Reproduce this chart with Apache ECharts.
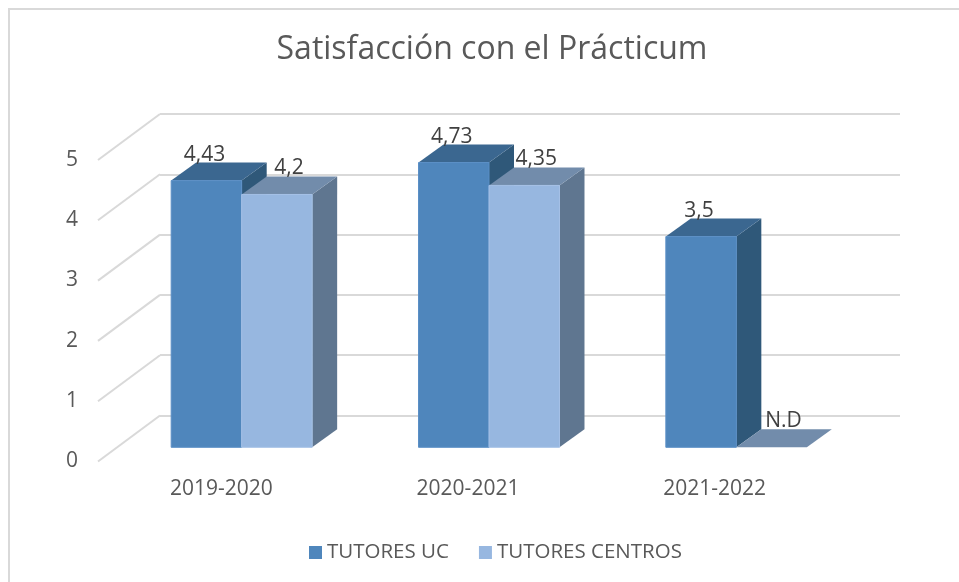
<!DOCTYPE html>
<html lang="es">
<head>
<meta charset="UTF-8">
<title>Satisfacción con el Prácticum</title>
<script src="https://cdn.jsdelivr.net/npm/echarts@6/dist/echarts.min.js"></script>
<style>
    html, body { margin: 0; background: #fff; }
    #main { width: 959px; height: 582px; }
</style>
</head>
<body>
<div id="main"></div>
<script>
    // datos
    var cursos = ['2019-2020', '2020-2021', '2021-2022'];
    var tutoresUC = [4.43, 4.73, 3.5];
    var tutoresCentros = [4.2, 4.35, null]; // null = N.D
    var yTicks = [0, 1, 2, 3, 4, 5];
    var seriesNames = ['TUTORES UC', 'TUTORES CENTROS'];

    var FONT = '"Open Sans", sans-serif';
    var DX = 25, DY = -18;          // profundidad de las barras
    var WALL_DX = -62, WALL_DY = 46; // pared lateral
    var colores = [
        {front: '#4f86bc', top: '#3b6790', side: '#2f5879', edge: '#5b8fc6'},
        {front: '#97b7e0', top: '#728cab', side: '#5f7690', edge: '#a5c1e6'}
    ];

    function fmt(v) { return v == null ? 'N.D' : String(v).replace('.', ','); }

    function renderBar(s) {
        var raw = s === 0 ? tutoresUC : tutoresCentros;
        return function (params, api) {
            var cat = api.value(0), val = api.value(1);
            var base = api.coord([cat, 0]);
            var top = api.coord([cat, val]);
            var w = api.size([1, 0])[0] * 0.285;
            var x0 = s === 0 ? base[0] - w : base[0];
            var yT = top[1], yB = base[1];
            var c = colores[s];
            var kids = [
                {type: 'polygon', shape: {points: [[x0 + w, yT], [x0 + w + DX, yT + DY], [x0 + w + DX, yB + DY], [x0 + w, yB]]}, style: {fill: c.side}},
                {type: 'polygon', shape: {points: [[x0, yT], [x0 + DX, yT + DY], [x0 + w + DX, yT + DY], [x0 + w, yT]]}, style: {fill: c.top}}
            ];
            if (yB - yT > 0) {
                kids.push({type: 'rect', shape: {x: x0, y: yT, width: w, height: yB - yT}, style: {fill: c.front, stroke: c.edge, lineWidth: 1}});
            }
            kids.push({
                type: 'text',
                x: x0 + w / 2 + (s === 0 ? -2 : 12),
                y: yT + DY - 8,
                style: {text: fmt(raw[params.dataIndex]), fill: '#404040', font: '21px ' + FONT, textAlign: 'center', textVerticalAlign: 'middle'}
            });
            return {type: 'group', children: kids};
        };
    }

    var chart = echarts.init(document.getElementById('main'));
    chart.setOption({
        animation: false,
        backgroundColor: '#fff',
        graphic: [{
            type: 'rect', shape: {x: 9, y: 9, width: 1000, height: 1000},
            style: {fill: 'none', stroke: '#d9d9d9', lineWidth: 2}, silent: true
        }],
        title: {
            text: 'Satisfacción con el Prácticum',
            left: 487, top: 29, textAlign: 'center',
            textStyle: {fontFamily: FONT, fontSize: 32, fontWeight: 'normal', color: '#595959'}
        },
        legend: {
            data: seriesNames,
            left: 304, top: 537,
            icon: 'rect', itemWidth: 13, itemHeight: 13, itemGap: 30,
            textStyle: {fontFamily: FONT, fontSize: 20.5, color: '#595959'}
        },
        grid: [
            {left: 98, right: 121, top: 160, bottom: 121},       // suelo frontal (etiquetas)
            {left: 160, right: 59, top: 114, bottom: 166.5},     // pared del fondo
            {left: 118, right: 99, top: 146.3, bottom: 134.7}    // barras
        ],
        xAxis: [
            {gridIndex: 0, type: 'category', data: cursos,
                axisLine: {show: false}, axisTick: {show: false},
                axisLabel: {margin: 18, fontFamily: FONT, fontSize: 21, color: '#595959'}},
            {gridIndex: 1, type: 'value', min: 0, max: 1, show: false},
            {gridIndex: 2, type: 'category', data: cursos, show: false}
        ],
        yAxis: [
            {gridIndex: 0, type: 'value', min: 0, max: 5, interval: 1,
                axisLine: {show: false}, axisTick: {show: false}, splitLine: {show: false},
                axisLabel: {margin: 20, fontFamily: FONT, fontSize: 21, color: '#595959'}},
            {gridIndex: 1, type: 'value', min: 0, max: 5, interval: 1,
                axisLine: {show: false}, axisTick: {show: false}, axisLabel: {show: false},
                splitLine: {lineStyle: {color: '#d9d9d9', width: 2}}},
            {gridIndex: 2, type: 'value', min: 0, max: 5, show: false}
        ],
        series: [
            {
                type: 'custom', name: 'pared', xAxisIndex: 1, yAxisIndex: 1, silent: true,
                data: yTicks.map(function (v) { return [0, v]; }),
                renderItem: function (params, api) {
                    var p = api.coord([0, api.value(1)]);
                    return {type: 'line', shape: {x1: p[0], y1: p[1], x2: p[0] + WALL_DX, y2: p[1] + WALL_DY},
                        style: {stroke: '#d9d9d9', lineWidth: 2}};
                }
            },
            {
                type: 'custom', name: seriesNames[0], xAxisIndex: 2, yAxisIndex: 2,
                itemStyle: {color: colores[0].front},
                data: tutoresUC.map(function (v, i) { return [i, v]; }),
                renderItem: renderBar(0)
            },
            {
                type: 'custom', name: seriesNames[1], xAxisIndex: 2, yAxisIndex: 2,
                itemStyle: {color: colores[1].front},
                data: tutoresCentros.map(function (v, i) { return [i, v == null ? 0 : v]; }),
                renderItem: renderBar(1)
            }
        ]
    });
</script>
</body>
</html>
